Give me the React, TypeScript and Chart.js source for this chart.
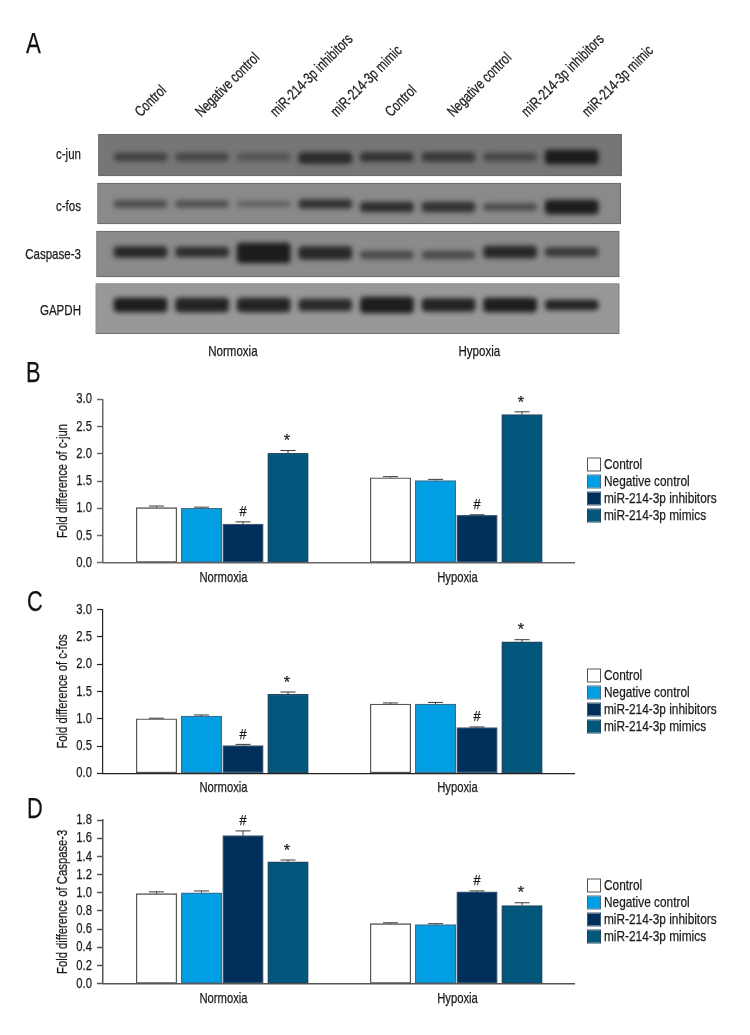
import React, { useEffect, useRef } from "react";
import { Chart, registerables } from "chart.js";

Chart.register(...registerables);

const FONT = '"Liberation Sans", Arial, sans-serif';
const INK = "#1a1a1a";

// ---- data: bar panels ----
const groups = ["Normoxia", "Hypoxia"];
const seriesNames = ["Control", "Negative control", "miR-214-3p inhibitors", "miR-214-3p mimics"];
const seriesFill = ["#ffffff", "#009fe3", "#012f5b", "#01587c"];
const seriesEdge = ["#555555", "#3a6c8c", "#3f5a75", "#1f4560"];

const cJunValues = [[1.01, 1.56], [1.0, 1.51], [0.71, 0.87], [2.01, 2.72]];
const cJunErrors = [[0.03, 0.02], [0.02, 0.02], [0.04, 0.01], [0.05, 0.05]];
const cFosValues = [[1.0, 1.27], [1.05, 1.27], [0.51, 0.84], [1.45, 2.41]];
const cFosErrors = [[0.01, 0.02], [0.02, 0.03], [0.02, 0.01], [0.04, 0.04]];
const caspValues = [[0.99, 0.66], [1.0, 0.65], [1.63, 1.01], [1.34, 0.86]];
const caspErrors = [[0.02, 0.01], [0.02, 0.01], [0.05, 0.01], [0.02, 0.03]];
const sigMarks = ["", "", "#", "*"];

// ---- data: blot panel ----
const laneLabels = [
  "Control", "Negative control", "miR-214-3p inhibitors", "miR-214-3p mimic",
  "Control", "Negative control", "miR-214-3p inhibitors", "miR-214-3p mimic",
];
const proteins = ["c-jun", "c-fos", "Caspase-3", "GAPDH"];
const conditionLabels = ["Normoxia", "Hypoxia"];
const cJunBand = [0.55, 0.5, 0.35, 0.8, 0.7, 0.65, 0.5, 0.95];
const cFosBand = [0.55, 0.5, 0.35, 0.75, 0.8, 0.75, 0.55, 0.95];
const caspBand = [0.85, 0.8, 0.95, 0.85, 0.55, 0.55, 0.85, 0.7];
const gapdhBand = [0.95, 0.9, 0.9, 0.85, 0.95, 0.9, 0.95, 0.9];
const cJunThick = [8, 8, 8, 11, 9, 9, 8, 14];
const cFosThick = [7, 7, 6, 9, 10, 10, 7, 14];
const caspThick = [11, 10, 20, 13, 8, 8, 12, 9];
const gapdhThick = [14, 14, 14, 12, 16, 13, 14, 10];

// ---- layout ----
const W = 750;
const H = 1035;
const SERIES_OFFSET_PX = [-67, -22, 19.5, 64.5];
const GROUP_PX = 234;

const LANE_PX = 61.6;
const LANE0 = 140.5;
const BLOT_TOP = 134;
const BLOT_BOTTOM = 334;
const BLOT_LEFT = 95.5;
const BLOT_RIGHT = 622;
const ROWS = [
  { l: 98.4, r: 622, t: 134, b: 176, fill: "#767676", band: cJunBand, thick: cJunThick, c: [157, 157, 157, 158, 157, 157, 157, 157] },
  { l: 97.5, r: 620.7, t: 183, b: 224, fill: "#8a8a8a", band: cFosBand, thick: cFosThick, c: [204, 204, 204, 204, 207, 207, 207, 207] },
  { l: 96.5, r: 619.3, t: 231, b: 277, fill: "#8b8b8b", band: caspBand, thick: caspThick, c: [252, 252, 253, 253, 255, 255, 252, 252] },
  { l: 95.5, r: 619.3, t: 283.5, b: 334, fill: "#989898", band: gapdhBand, thick: gapdhThick, c: [305, 305, 305, 305, 305, 305, 305, 305] },
];
const LABEL_NUDGE_PX = [10, 9, 22, 21, 14, 14.5, 27, 26];
const PROTEIN_LABEL_Y = [155, 206.7, 255, 310.7];

// The reference's type is a condensed sans; no such face is installed, so the
// canvas draws each string narrower along its own baseline, slightly emboldened.
function condense(ctx: any, factor: (t: string) => number) {
  const fill = ctx.fillText.bind(ctx);
  const stroke = ctx.strokeText.bind(ctx);
  ctx.fillText = (t: string, x: number, y: number) => {
    ctx.save();
    ctx.translate(x, y);
    ctx.scale(factor(String(t)), 1);
    fill(t, 0, 0);
    ctx.strokeStyle = ctx.fillStyle;
    ctx.lineWidth = 0.25;
    stroke(t, 0, 0);
    ctx.restore();
  };
}

function letterPlugin(letter: string, x: number, yBase: number) {
  return {
    id: "panelLetter",
    afterDraw(chart: any) {
      const ctx = chart.ctx;
      ctx.save();
      ctx.fillStyle = "#111";
      ctx.font = `29px ${FONT}`;
      ctx.textAlign = "left";
      ctx.textBaseline = "alphabetic";
      ctx.fillText(letter, x, yBase);
      ctx.restore();
    },
  };
}

function Blot() {
  const ref = useRef<HTMLCanvasElement>(null);
  useEffect(() => {
    const top = 0;
    const xMin = (BLOT_LEFT - LANE0) / LANE_PX;
    const xMax = (BLOT_RIGHT - LANE0) / LANE_PX;
    const toY = (px: number) => px - BLOT_TOP;
    const rowSets = ROWS.map((r, i) => ({
      label: proteins[i] + " membrane",
      order: 2,
      data: [{ x: ((r.l + r.r) / 2 - LANE0) / LANE_PX, y: [toY(r.t), toY(r.b)] }],
      barThickness: r.r - r.l,
      backgroundColor: r.fill,
      borderColor: "#666666",
      borderWidth: 1,
      borderSkipped: false,
      isRow: true,
    }));
    const bandSets = ROWS.map((r, i) => ({
      label: proteins[i],
      order: 1,
      data: r.band.map((_, k) => ({
        x: k,
        y: [toY(r.c[k] - r.thick[k] / 2), toY(r.c[k] + r.thick[k] / 2)],
      })),
      barThickness: 53,
      backgroundColor: r.band.map((v) => `rgba(22,22,22,${v})`),
      borderWidth: 0,
      borderRadius: 4,
      borderSkipped: false,
      isRow: false,
    }));
    const ctx = ref.current!.getContext("2d");
    condense(ctx, () => 0.77);
    const chart = new Chart(ref.current!, {
      type: "bar",
      data: { datasets: [...bandSets, ...rowSets] as any },
      plugins: [
        letterPlugin("A", 26, 53),
        {
          id: "bandBlur",
          beforeDatasetDraw(c: any, args: any) {
            if (!c.data.datasets[args.index].isRow) c.ctx.filter = "blur(2.5px)";
          },
          afterDatasetDraw(c: any) {
            c.ctx.filter = "none";
          },
        },
      ],
      options: {
        responsive: false,
        animation: false,
        events: [],
        layout: {
          autoPadding: false,
          padding: { left: 0, right: W - BLOT_RIGHT, top: 0, bottom: 0 },
        },
        plugins: { legend: { display: false }, tooltip: { enabled: false } },
        datasets: { bar: { grouped: false } },
        scales: {
          xTop: {
            type: "linear",
            position: "top",
            axis: "x",
            offset: false,
            min: xMin,
            max: xMax,
            grid: { display: false },
            border: { display: false },
            afterFit: (s: any) => { s.height = BLOT_TOP - top; },
            afterBuildTicks: (s: any) => {
              s.ticks = laneLabels.map((_, i) => ({ value: i + LABEL_NUDGE_PX[i] / LANE_PX }));
            },
            ticks: {
              autoSkip: false,
              minRotation: 45,
              maxRotation: 45,
              padding: 5,
              color: INK,
              font: { family: FONT, size: 15 },
              callback: (_: any, i: number) => laneLabels[i],
            },
          },
          x: {
            type: "linear",
            position: "bottom",
            offset: false,
            min: xMin,
            max: xMax,
            grid: { display: false, tickLength: 0 },
            border: { display: false },
            afterFit: (s: any) => { s.height = 370 - BLOT_BOTTOM; },
            afterBuildTicks: (s: any) => {
              s.ticks = [{ value: 1.5 }, { value: 5.5 }];
            },
            ticks: {
              autoSkip: false,
              maxRotation: 0,
              padding: 9,
              color: INK,
              font: { family: FONT, size: 15 },
              callback: (_: any, i: number) => conditionLabels[i],
            },
          },
          y: {
            type: "linear",
            position: "left",
            reverse: true,
            min: 0,
            max: BLOT_BOTTOM - BLOT_TOP,
            grid: { display: false },
            border: { display: false },
            afterFit: (s: any) => { s.width = BLOT_LEFT; },
            afterBuildTicks: (s: any) => {
              s.ticks = PROTEIN_LABEL_Y.map((p) => ({ value: p - BLOT_TOP }));
            },
            ticks: {
              autoSkip: false,
              padding: 6.5,
              color: INK,
              font: { family: FONT, size: 15 },
              callback: (_: any, i: number) => proteins[i],
            },
          },
        },
      } as any,
    });
    return () => chart.destroy();
  }, []);
  return <canvas ref={ref} width={W} height={370} style={{ position: "absolute", left: 0, top: 0 }} />;
}

type PanelProps = {
  letter: string;
  letterX: number;
  letterBase: number;
  top: number;
  bottom: number;
  yTop: number;
  yZero: number;
  yMax: number;
  yStep: number;
  yTitle: string;
  values: number[][];
  errors: number[][];
  legendTop: number;
  axisColor: string;
  axisWidth: number;
};

function BarPanel(p: PanelProps) {
  const ref = useRef<HTMLCanvasElement>(null);
  useEffect(() => {
    const AREA_L = 103;
    const AREA_R = 574;
    const G0 = 223.5;
    const datasets = seriesNames.map((name, s) => ({
      label: name,
      data: p.values[s].map((v, g) => ({ x: g + SERIES_OFFSET_PX[s] / GROUP_PX, y: v })),
      backgroundColor: seriesFill[s],
      borderColor: seriesEdge[s],
      borderWidth: 1.3,
      borderSkipped: false,
      barThickness: 40.5,
    }));
    const errorPlugin = {
      id: "errorBars",
      afterDatasetsDraw(c: any) {
        const ctx = c.ctx;
        const xs = c.scales.x;
        const ys = c.scales.y;
        ctx.save();
        ctx.textAlign = "center";
        ctx.textBaseline = "middle";
        p.values.forEach((row, s) =>
          row.forEach((v, g) => {
            const x = xs.getPixelForValue(g + SERIES_OFFSET_PX[s] / GROUP_PX);
            const y0 = ys.getPixelForValue(v);
            const y1 = ys.getPixelForValue(v + p.errors[s][g]);
            ctx.strokeStyle = "#3a3a3a";
            ctx.lineWidth = 1;
            ctx.beginPath();
            ctx.moveTo(x, y0);
            ctx.lineTo(x, y1);
            ctx.moveTo(x - 7.5, y1);
            ctx.lineTo(x + 7.5, y1);
            ctx.stroke();
            const m = sigMarks[s];
            if (m) {
              ctx.fillStyle = INK;
              ctx.font = `${m === "*" ? 17 : 15}px ${FONT}`;
              ctx.fillText(m, m === "*" ? x - 1 : x, y1 + (m === "*" ? -9 : -10));
            }
          }),
        );
        ctx.restore();
      },
    };
    const legendPlugin = {
      id: "sideLegend",
      afterDraw(c: any) {
        const ctx = c.ctx;
        ctx.save();
        const offset = p.top;
        seriesNames.forEach((name, i) => {
          const y = p.legendTop - offset + i * 17;
          ctx.fillStyle = seriesFill[i];
          ctx.fillRect(588, y, 12, 12);
          ctx.strokeStyle = seriesEdge[i];
          ctx.lineWidth = 1;
          ctx.strokeRect(587.5, y - 0.5, 13, 13);
          ctx.fillStyle = INK;
          ctx.font = `15px ${FONT}`;
          ctx.textAlign = "left";
          ctx.textBaseline = "middle";
          ctx.fillText(name, 604, y + 6);
        });
        ctx.restore();
      },
    };
    const ctx = ref.current!.getContext("2d");
    condense(ctx, (t) => (seriesNames.includes(t) ? 0.79 : t === "*" ? 0.95 : t === "#" ? 0.85 : 0.75));
    const chart = new Chart(ref.current!, {
      type: "bar",
      data: { datasets: datasets as any },
      plugins: [errorPlugin, legendPlugin, letterPlugin(p.letter, p.letterX, p.letterBase - p.top)],
      options: {
        responsive: false,
        animation: false,
        events: [],
        layout: {
          autoPadding: false,
          padding: { left: 0, right: W - AREA_R, top: p.yTop - p.top, bottom: 0 },
        },
        plugins: { legend: { display: false }, tooltip: { enabled: false } },
        datasets: { bar: { grouped: false } },
        scales: {
          x: {
            type: "linear",
            offset: false,
            min: (AREA_L - G0) / GROUP_PX,
            max: (AREA_R - G0) / GROUP_PX,
            grid: { display: false, tickLength: 0 },
            border: { color: p.axisColor, width: p.axisWidth },
            afterFit: (s: any) => { s.height = p.bottom - p.yZero; },
            afterBuildTicks: (s: any) => {
              s.ticks = groups.map((_, i) => ({ value: i }));
            },
            ticks: {
              autoSkip: false,
              maxRotation: 0,
              padding: 6,
              color: INK,
              font: { family: FONT, size: 15 },
              callback: (_: any, i: number) => groups[i],
            },
          },
          y: {
            type: "linear",
            min: 0,
            max: p.yMax,
            afterFit: (s: any) => { s.width = AREA_L; },
            border: { color: p.axisColor, width: p.axisWidth },
            grid: {
              drawOnChartArea: false,
              drawTicks: true,
              tickLength: 6,
              tickColor: p.axisColor,
              tickWidth: p.axisWidth,
            },
            title: {
              display: true,
              text: p.yTitle,
              color: INK,
              font: { family: FONT, size: 15 },
              padding: { top: 54, bottom: 0 },
            },
            ticks: {
              autoSkip: false,
              stepSize: p.yStep,
              padding: 5,
              color: INK,
              font: { family: FONT, size: 15 },
              callback: (v: any) => Number(v).toFixed(1),
            },
          },
        },
      } as any,
    });
    return () => chart.destroy();
  }, []);
  return (
    <canvas
      ref={ref}
      width={W}
      height={p.bottom - p.top}
      style={{ position: "absolute", left: 0, top: p.top }}
    />
  );
}

export default function App() {
  useEffect(() => {
    document.body.style.margin = "0";
    document.body.style.background = "#ffffff";
  }, []);
  return (
    <div style={{ position: "relative", width: W, height: H, overflow: "hidden", background: "#fff" }}>
      <Blot />
      <BarPanel letter="B" letterX={26} letterBase={382} top={355} bottom={585} yTop={399.3} yZero={562.7} yMax={3} yStep={0.5}
        yTitle="Fold difference of c-jun" values={cJunValues} errors={cJunErrors} legendTop={458.5} axisColor="#666666" axisWidth={1.5} />
      <BarPanel letter="C" letterX={27} letterBase={611} top={585} bottom={796} yTop={609.7} yZero={773.3} yMax={3} yStep={0.5}
        yTitle="Fold difference of c-fos" values={cFosValues} errors={cFosErrors} legendTop={669.5} axisColor="#222222" axisWidth={1.2} />
      <BarPanel letter="D" letterX={27} letterBase={818} top={796} bottom={1035} yTop={820} yZero={983.7} yMax={1.8} yStep={0.2}
        yTitle="Fold difference of Caspase-3" values={caspValues} errors={caspErrors} legendTop={879.5} axisColor="#555555" axisWidth={1.5} />
    </div>
  );
}
